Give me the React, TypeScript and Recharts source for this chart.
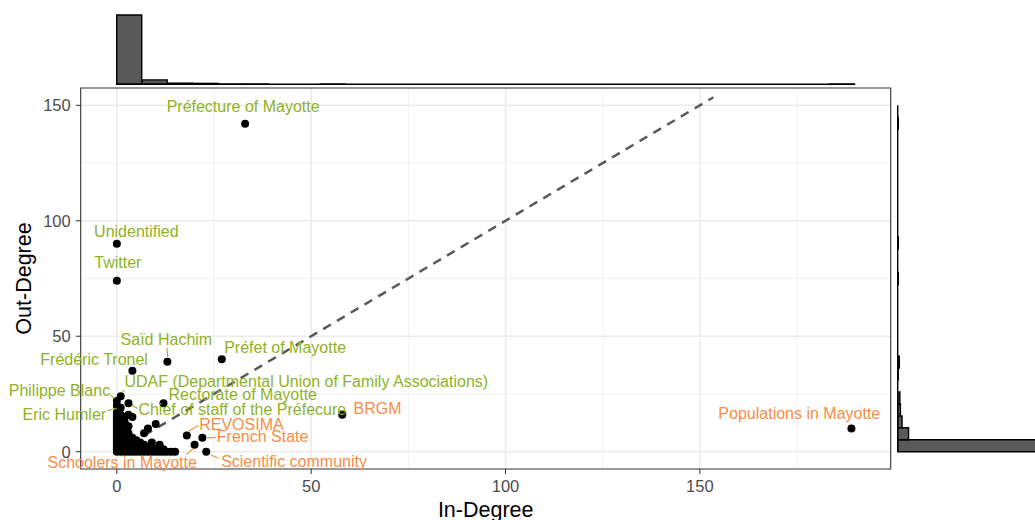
import React from "react";
import {
  Bar,
  BarChart,
  CartesianGrid,
  Label,
  ReferenceArea,
  ReferenceLine,
  Scatter,
  ScatterChart,
  XAxis,
  YAxis,
} from "recharts";

const FONT = '"Liberation Sans", Arial, Helvetica, sans-serif';
const GREEN = "#8FB21F";
const ORANGE = "#F88D45";

// unlabelled nodes (the pile near the origin)
const clusterIn = [
  0, 0, 0, 0, 0, 0, 0, 0, 0, 0, 0, 0, 0, 0, 0, 0, 0, 0, 0,
  1, 1, 1, 1, 1, 1, 1, 1, 1, 1, 1, 1, 1, 1, 1,
  2, 2, 2, 2, 2, 2, 2, 2, 2, 2, 2, 2, 2,
  3, 3, 3, 3, 3, 3, 3, 3, 3, 3,
  4, 4, 4, 4, 4, 4, 4,
  5, 5, 5, 5, 5,
  6, 6, 6, 6,
  7, 7, 7, 7,
  8, 8, 8, 8,
  9, 9, 9,
  10, 10, 10,
  11, 11,
  12, 12,
  13, 14, 15,
];
const clusterOut = [
  0, 1, 2, 3, 4, 5, 6, 7, 8, 9, 10, 11, 12, 13, 14, 15, 16, 17, 20,
  0, 1, 2, 3, 4, 5, 6, 7, 8, 9, 10, 11, 12, 14, 16,
  0, 1, 2, 3, 4, 5, 6, 7, 8, 10, 12, 13, 15,
  0, 1, 2, 3, 4, 5, 6, 8, 11, 16,
  0, 1, 2, 3, 4, 6, 15,
  0, 1, 2, 3, 5,
  0, 1, 2, 4,
  0, 1, 3, 8,
  0, 1, 2, 10,
  0, 2, 4,
  0, 1, 12,
  0, 3,
  0, 1,
  0, 0, 0,
];

// labelled nodes
const labelNames = [
  "Préfecture of Mayotte",
  "Unidentified",
  "Twitter",
  "Saïd Hachim",
  "Préfet of Mayotte",
  "Frédéric Tronel",
  "Philippe Blanc",
  "UDAF (Departmental Union of Family Associations)",
  "Eric Humler",
  "Chief of staff of the Préfecure",
  "Rectorate of Mayotte",
  "BRGM",
  "REVOSIMA",
  "French State",
  "Schoolers in Mayotte",
  "Scientific community",
  "Populations in Mayotte",
];
const labelIn = [33, 0, 0, 13, 27, 4, 0, 1, 1, 3, 12, 58, 18, 22, 20, 23, 189];
const labelOut = [142, 90, 74, 39, 40, 35, 22, 24, 19, 21, 21, 16, 7, 6, 3, 0, 10];
const labelGroup = [
  "out", "out", "out", "out", "out", "out", "out", "out", "out", "out", "out",
  "in", "in", "in", "in", "in", "in",
];

const xTicks = [0, 50, 100, 150];
const yTicks = [0, 50, 100, 150];
const xMinor = [25, 75, 125, 175];
const yMinor = [25, 75, 125];
const diagonal = [0, 153.5];

// marginal histograms, 29 bins each
const inDegreeBins = [300, 19, 5, 4, 1, 1, 0, 0, 1, 0, 0, 0, 0, 0, 0, 0, 0, 0, 0, 0, 0, 0, 0, 0, 0, 0, 0, 0, 1];
const outDegreeBins = [290, 20, 8, 5, 4, 0, 1, 3, 0, 0, 0, 0, 0, 0, 1, 0, 0, 1, 0, 0, 0, 0, 0, 0, 0, 0, 0, 1, 0];

const X_DOMAIN = [-9.3, 199.1];
const Y_DOMAIN = [-7.5, 157.5];

const nodes = clusterIn.map((x, i) => ({ x, y: clusterOut[i] }));
const labelled = labelNames.map((name, i) => ({ name, x: labelIn[i], y: labelOut[i], group: labelGroup[i] }));
const allNodes = [...nodes, ...labelled];
const inHist = inDegreeBins.map((count, bin) => ({ bin, count }));
const outHist = outDegreeBins.map((count, bin) => ({ bin, count }));

type Layout = { dx: number; dy: number; anchor: "start" | "middle" | "end"; line?: number[] };
const LABEL_LAYOUT: Record<string, Layout> = {
  "Préfecture of Mayotte": { dx: -2, dy: -17, anchor: "middle" },
  Unidentified: { dx: 19.5, dy: -12.2, anchor: "middle" },
  Twitter: { dx: 1, dy: -18, anchor: "middle" },
  "Saïd Hachim": { dx: -1, dy: -22.4, anchor: "middle", line: [-0.5, -14, 0.3, -5] },
  "Préfet of Mayotte": { dx: 2.4, dy: -11.6, anchor: "start" },
  "Frédéric Tronel": { dx: 15.5, dy: -11.6, anchor: "end" },
  "Philippe Blanc": { dx: -6.7, dy: -10.6, anchor: "end", line: [-6.5, -6, -2.5, -2.5] },
  "UDAF (Departmental Union of Family Associations)": { dx: 3.7, dy: -14.3, anchor: "start", line: [3.5, -6, 1.5, -3.5] },
  "Eric Humler": { dx: -14.6, dy: 6.5, anchor: "end", line: [-13.5, 3, -4, 0.5] },
  "Chief of staff of the Préfecure": { dx: 9.9, dy: 6.1, anchor: "start", line: [3.4, 2, 9, 5.3] },
  "Rectorate of Mayotte": { dx: 5, dy: -8.5, anchor: "start" },
  BRGM: { dx: 11.2, dy: -6.5, anchor: "start" },
  REVOSIMA: { dx: 12.4, dy: -11.5, anchor: "start", line: [1.5, -4, 11.5, -10] },
  "French State": { dx: 14.5, dy: -1.1, anchor: "start", line: [5, 0, 14, -0.5] },
  "Schoolers in Mayotte": { dx: 2.3, dy: 17.9, anchor: "end", line: [-8.7, 10.2, -1.5, 4] },
  "Scientific community": { dx: 14.9, dy: 10, anchor: "start", line: [4.6, 3.3, 12.2, 6.6] },
  "Populations in Mayotte": { dx: 28.8, dy: -14.6, anchor: "end" },
};

const Dot = (props: any) => <circle cx={props.cx} cy={props.cy} r={4} fill="#000" />;

const NodeLabel = (props: any) => {
  const { cx, cy, payload } = props;
  const l = LABEL_LAYOUT[payload.name];
  const color = payload.group === "out" ? GREEN : ORANGE;
  return (
    <g>
      {l.line && (
        <line
          x1={cx + l.line[0]}
          y1={cy + l.line[1]}
          x2={cx + l.line[2]}
          y2={cy + l.line[3]}
          stroke={color}
          strokeWidth={1.1}
        />
      )}
      <text x={cx + l.dx} y={cy + l.dy + 5.5} textAnchor={l.anchor} fontSize={16} fill={color}>
        {payload.name}
      </text>
    </g>
  );
};

const tickStyle = { fill: "#4D4D4D", fontSize: 16.5 };
const layer: React.CSSProperties = { position: "absolute", left: 0, top: 0 };

export default function App() {
  return (
    <div
      style={{
        position: "absolute",
        left: 0,
        top: 0,
        width: 1035,
        height: 520,
        overflow: "hidden",
        background: "#fff",
        fontFamily: FONT,
      }}
    >
      {/* main scatter */}
      <div style={layer}>
        <ScatterChart width={1035} height={520} margin={{ top: 88, right: 144.3, bottom: 0, left: 0 }}>
          <CartesianGrid verticalValues={xMinor} horizontalValues={yMinor} stroke="#EFEFEF" strokeWidth={0.8} />
          <CartesianGrid verticalValues={xTicks} horizontalValues={yTicks} stroke="#EBEBEB" strokeWidth={1.5} />
          <XAxis
            type="number"
            dataKey="x"
            domain={X_DOMAIN}
            ticks={xTicks}
            height={51}
            tickSize={5}
            tickMargin={6}
            axisLine={false}
            tickLine={{ stroke: "#333" }}
            tick={tickStyle}
          >
            <Label value="In-Degree" position="insideBottom" offset={3} fontSize={21.5} fill="#000" />
          </XAxis>
          <YAxis
            type="number"
            dataKey="y"
            domain={Y_DOMAIN}
            ticks={yTicks}
            width={80.7}
            tickSize={5}
            tickMargin={5}
            axisLine={false}
            tickLine={{ stroke: "#333" }}
            tick={tickStyle}
          >
            <Label
              content={(p: any) => {
                const vb = p.viewBox;
                const x = vb.x + 31;
                const y = vb.y + vb.height / 2;
                return (
                  <text x={x} y={y} transform={`rotate(-90 ${x} ${y})`} textAnchor="middle" fontSize={21.5} fill="#000">
                    Out-Degree
                  </text>
                );
              }}
            />
          </YAxis>
          <ReferenceLine
            segment={[
              { x: diagonal[0], y: diagonal[0] },
              { x: diagonal[1], y: diagonal[1] },
            ]}
            stroke="#595959"
            strokeWidth={2.5}
            strokeDasharray="9 7"
          />
          <Scatter data={allNodes} shape={Dot} isAnimationActive={false} />
          <Scatter data={labelled} shape={NodeLabel} isAnimationActive={false} />
          <ReferenceArea
            x1={X_DOMAIN[0]}
            x2={X_DOMAIN[1]}
            y1={Y_DOMAIN[0]}
            y2={Y_DOMAIN[1]}
            fill="none"
            fillOpacity={0}
            stroke="#333"
            strokeWidth={1.1}
          />
        </ScatterChart>
      </div>

      {/* top marginal: in-degree */}
      <div style={layer}>
        <BarChart
          width={1035}
          height={520}
          data={inHist}
          barCategoryGap={0}
          margin={{ top: 15, right: 180, bottom: 435.7, left: 116.7 }}
        >
          <XAxis dataKey="bin" hide />
          <YAxis hide domain={[0, "dataMax"]} />
          <ReferenceLine y={0} stroke="#000" strokeWidth={1.4} />
          <Bar dataKey="count" fill="#595959" stroke="#000" strokeWidth={1.4} isAnimationActive={false} />
        </BarChart>
      </div>

      {/* right marginal: out-degree */}
      <div style={layer}>
        <BarChart
          layout="vertical"
          width={1110}
          height={520}
          data={outHist}
          barCategoryGap={0}
          margin={{ top: 105.3, right: 55, bottom: 68.3, left: 897.7 }}
        >
          <XAxis type="number" hide domain={[0, "dataMax"]} />
          <YAxis type="category" dataKey="bin" hide reversed />
          <ReferenceLine x={0} stroke="#000" strokeWidth={1.4} />
          <Bar dataKey="count" fill="#595959" stroke="#000" strokeWidth={1.4} isAnimationActive={false} />
        </BarChart>
      </div>
    </div>
  );
}
